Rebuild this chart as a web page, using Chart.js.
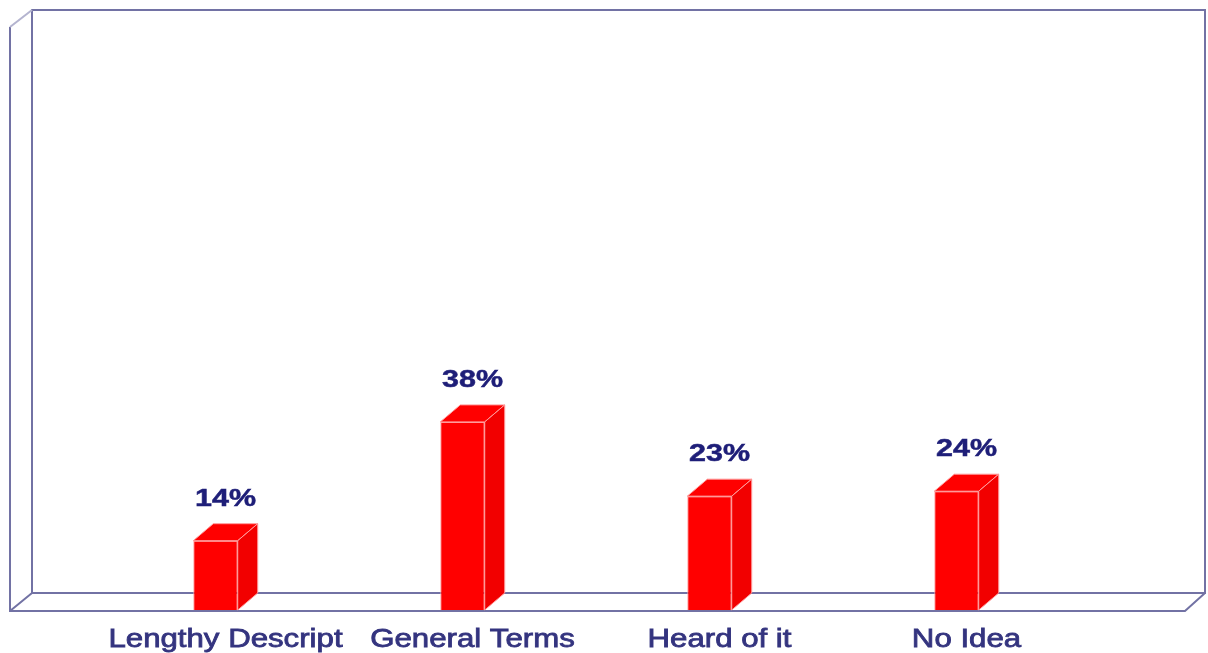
<!DOCTYPE html>
<html>
<head>
<meta charset="utf-8">
<script src="https://cdn.jsdelivr.net/npm/chart.js@4/dist/chart.umd.min.js"></script>
<style>
  html, body { margin: 0; padding: 0; background: #ffffff; }
  #wrap { width: 1208px; height: 653px; position: relative; }
</style>
</head>
<body>
<div id="wrap"><canvas id="chart"></canvas></div>
<script>
// survey answers, percent of respondents
const categories = ["Lengthy Descript", "General Terms", "Heard of it", "No Idea"];
const percents = [14, 38, 23, 24];

const DEPTH_X = 20;
const DEPTH_Y = 17;
const FRAME = "#7272a4";
const TEXT_DARK = "#1e1e78";
const TEXT_AXIS = "#34347f";

// draws a string stretched horizontally around cx, with an optional outline to thicken it
function wideText(ctx, str, cx, y, font, color, stretch, weight) {
    ctx.save();
    ctx.font = font;
    ctx.fillStyle = color;
    ctx.strokeStyle = color;
    ctx.textAlign = "center";
    ctx.textBaseline = "alphabetic";
    ctx.translate(cx, y);
    ctx.scale(stretch, 1);
    ctx.fillText(str, 0, 0);
    if (weight) {
        ctx.lineWidth = weight;
        ctx.strokeText(str, 0, 0);
    }
    ctx.restore();
}

// open 3D box behind the bars (back wall, floor edges, left wall edge)
const boxFrame = {
    id: "boxFrame",
    beforeDatasetsDraw(chart) {
        const ctx = chart.ctx;
        const w = chart.width;
        const h = chart.height;
        const backL = 32, backT = 10, backR = w - 3, backB = h - 60;
        const frontL = 10, frontT = 27, frontR = w - 23, frontB = h - 42;
        ctx.save();
        ctx.strokeStyle = FRAME;
        ctx.lineWidth = 2;
        ctx.beginPath();
        ctx.rect(backL, backT, backR - backL, backB - backT);
        ctx.moveTo(frontL, frontT);
        ctx.lineTo(frontL, frontB);
        ctx.lineTo(frontR, frontB);
        ctx.lineTo(backR, backB);
        ctx.moveTo(frontL, frontB);
        ctx.lineTo(backL, backB);
        ctx.stroke();
        // the top-left edge is fainter
        ctx.strokeStyle = "#b4b4cf";
        ctx.beginPath();
        ctx.moveTo(backL, backT);
        ctx.lineTo(frontL, frontT);
        ctx.stroke();
        ctx.restore();
    }
};

// top and side faces of every bar, then value and category labels
const bars3d = {
    id: "bars3d",
    afterDatasetsDraw(chart) {
        const ctx = chart.ctx;
        const meta = chart.getDatasetMeta(0);
        meta.data.forEach((bar, i) => {
            const left = bar.x - bar.width / 2;
            const right = bar.x + bar.width / 2;
            const top = bar.y;
            const base = bar.base;
            ctx.save();
            ctx.strokeStyle = "#ff9c9c";
            ctx.lineWidth = 1;
            ctx.lineJoin = "round";

            ctx.fillStyle = "#ff0000";
            ctx.beginPath();
            ctx.moveTo(left, top);
            ctx.lineTo(left + DEPTH_X, top - DEPTH_Y);
            ctx.lineTo(right + DEPTH_X, top - DEPTH_Y);
            ctx.lineTo(right, top);
            ctx.closePath();
            ctx.fill();
            ctx.stroke();

            ctx.fillStyle = "#f20000";
            ctx.beginPath();
            ctx.moveTo(right, top);
            ctx.lineTo(right + DEPTH_X, top - DEPTH_Y);
            ctx.lineTo(right + DEPTH_X, base - DEPTH_Y);
            ctx.lineTo(right, base);
            ctx.closePath();
            ctx.fill();
            ctx.stroke();
            ctx.restore();

            const cx = bar.x + DEPTH_X / 2;
            wideText(ctx, percents[i] + "%", cx, top - DEPTH_Y - 18,
                "bold 24px 'Liberation Sans', Arial, sans-serif", TEXT_DARK, 1.27, 0.5);
            wideText(ctx, categories[i], cx, chart.height - 6,
                "26px 'Liberation Sans', Arial, sans-serif", TEXT_AXIS, 1.2, 0.8);
        });
    }
};

const ctx = document.getElementById("chart").getContext("2d");
new Chart(ctx, {
    type: "bar",
    data: {
        labels: categories,
        datasets: [{
            data: percents,
            backgroundColor: "#ff0000",
            borderColor: "#ff9c9c",
            borderWidth: 1,
            barPercentage: 0.18,
            categoryPercentage: 1
        }]
    },
    options: {
        responsive: true,
        maintainAspectRatio: false,
        animation: false,
        layout: { padding: { left: 92, right: 128, top: 115, bottom: 43 } },
        scales: {
            x: { display: false },
            y: { display: false, min: 0, max: 100 }
        },
        plugins: {
            legend: { display: false },
            tooltip: { enabled: false }
        }
    },
    plugins: [boxFrame, bars3d]
});
</script>
</body>
</html>
